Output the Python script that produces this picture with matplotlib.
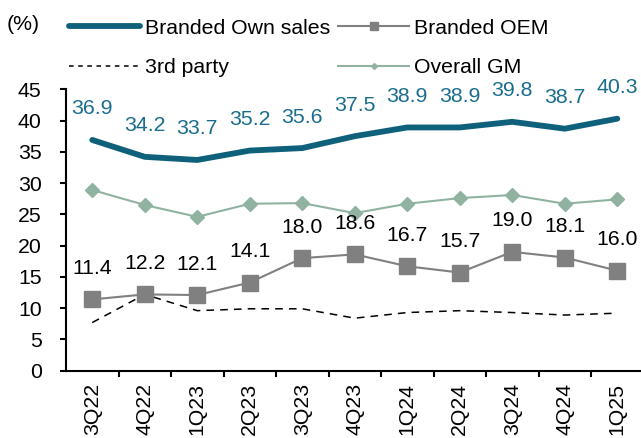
import matplotlib
matplotlib.use("Agg")
import matplotlib.pyplot as plt
from matplotlib.lines import Line2D

plt.rcParams["font.family"] = ["Liberation Sans", "DejaVu Sans"]

quarters = ["3Q22", "4Q22", "1Q23", "2Q23", "3Q23", "4Q23",
            "1Q24", "2Q24", "3Q24", "4Q24", "1Q25"]
own_sales = [36.9, 34.2, 33.7, 35.2, 35.6, 37.5, 38.9, 38.9, 39.8, 38.7, 40.3]
oem = [11.4, 12.2, 12.1, 14.1, 18.0, 18.6, 16.7, 15.7, 19.0, 18.1, 16.0]
third_party = [7.7, 12.2, 9.6, 9.9, 9.9, 8.4, 9.3, 9.6, 9.3, 8.9, 9.2]
overall_gm = [28.9, 26.5, 24.6, 26.7, 26.8, 25.2, 26.7, 27.6, 28.1, 26.7, 27.4]

TEAL = "#0f617b"
TEAL_TEXT = "#1a6d8e"
GREY = "#808080"
SAGE = "#8fb3a0"
FS = 15.3

fig = plt.figure(figsize=(6.41, 4.38), dpi=100)
ax = fig.add_axes([66 / 641, 67.3 / 438, 577.5 / 641, 281.4 / 438])

x = list(range(len(quarters)))

ax.plot(x, third_party, color="black", linestyle=(0, (5, 4)), linewidth=1.1)
ax.plot(x, overall_gm, color=SAGE, linewidth=1.5, marker="D", markersize=7.5,
        markerfacecolor=SAGE, markeredgecolor=SAGE)
ax.plot(x, oem, color=GREY, linewidth=1.5, marker="s", markersize=11,
        markerfacecolor=GREY, markeredgecolor=GREY)
ax.plot(x, own_sales, color=TEAL, linewidth=4.2, solid_capstyle="round")

# value labels above the two main series
for i in x:
    ax.annotate(f"{own_sales[i]:.1f}", (i, own_sales[i]), xytext=(0, 31),
                textcoords="offset pixels", ha="center", va="center",
                fontsize=FS, color=TEAL_TEXT)
    ax.annotate(f"{oem[i]:.1f}", (i, oem[i]), xytext=(0, 31),
                textcoords="offset pixels", ha="center", va="center",
                fontsize=FS, color="black")

ax.set_xlim(-0.5, len(quarters) - 0.5)
ax.set_ylim(0, 45)
ax.set_yticks(range(0, 46, 5))
ax.set_xticks(x)
ax.set_xticklabels(quarters, rotation=90)
ax.set_xticks([i + 0.5 for i in x[:-1]], minor=True)
ax.tick_params(axis="x", which="major", length=0, pad=8.7, labelsize=FS)
ax.tick_params(axis="x", which="minor", length=4.5, width=1.5, direction="out")
ax.tick_params(axis="y", length=4.5, width=1.5, labelsize=FS, pad=13)

for side in ["top", "right"]:
    ax.spines[side].set_visible(False)
for side in ["left", "bottom"]:
    ax.spines[side].set_linewidth(1.5)

handles = [
    Line2D([], [], color=TEAL, linewidth=4.2, solid_capstyle="round"),
    Line2D([], [], color="black", linestyle=(0, (3, 3)), linewidth=1.1),
    Line2D([], [], color=GREY, linewidth=1.5, marker="s", markersize=6),
    Line2D([], [], color=SAGE, linewidth=1.5, marker="D", markersize=3),
]
labels = ["Branded Own sales", "3rd party", "Branded OEM", "Overall GM"]
fig.legend(handles, labels, ncol=2, loc="upper left",
           bbox_to_anchor=(69 / 641, 1.0 - 18.5 / 438), frameon=False,
           fontsize=FS, handlelength=3.35, handletextpad=0.23,
           columnspacing=0.37, labelspacing=0.985, borderaxespad=0,
           borderpad=0)

fig.text(7 / 641, 1 - 24 / 438, "(%)", fontsize=FS, va="center", ha="left")

fig.savefig("out.png", dpi=100)
